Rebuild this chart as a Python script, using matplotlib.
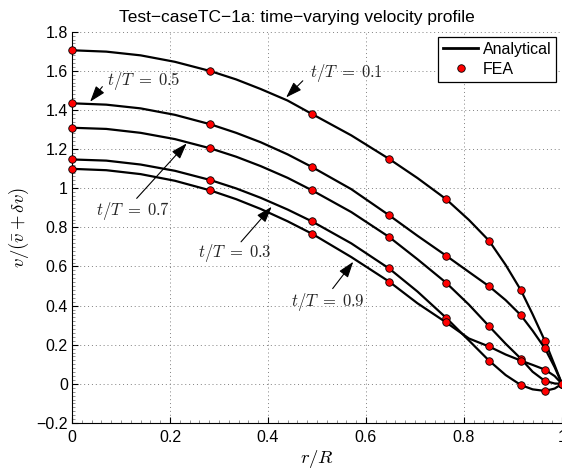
import matplotlib.pyplot as plt
from matplotlib.ticker import MultipleLocator

plt.rcParams['font.family'] = ['Liberation Sans', 'DejaVu Sans']
plt.rcParams['mathtext.fontset'] = 'cm'

# FEA nodes (r/R) and values
r_fea = [0.0, 0.282, 0.490, 0.647, 0.763, 0.851, 0.916, 0.965, 1.0]
fea_01 = [1.705, 1.599, 1.379, 1.150, 0.945, 0.732, 0.479, 0.220, 0.0]
fea_05 = [1.434, 1.327, 1.108, 0.862, 0.656, 0.499, 0.351, 0.182, 0.0]
fea_07 = [1.309, 1.204, 0.989, 0.751, 0.518, 0.295, 0.129, 0.015, 0.0]
fea_03 = [1.147, 1.042, 0.830, 0.590, 0.339, 0.119, -0.006, -0.036, 0.0]
fea_09 = [1.099, 0.989, 0.767, 0.523, 0.315, 0.191, 0.119, 0.073, 0.0]

# analytical curves read at a denser set of radii
r_ana = [0.0, 0.07, 0.14, 0.21, 0.282, 0.335, 0.385, 0.44, 0.490, 0.57, 0.647,
         0.705, 0.763, 0.81, 0.851, 0.885, 0.916, 0.94, 0.965, 0.985, 1.0]
ana_01 = [1.705, 1.698, 1.679, 1.646, 1.599, 1.556, 1.507, 1.448, 1.379, 1.270,
          1.150, 1.052, 0.945, 0.838, 0.732, 0.608, 0.479, 0.356, 0.220, 0.095, 0.0]
ana_05 = [1.434, 1.427, 1.408, 1.375, 1.327, 1.283, 1.235, 1.173, 1.108, 0.995,
          0.862, 0.757, 0.656, 0.572, 0.499, 0.428, 0.351, 0.272, 0.182, 0.085, 0.0]
ana_07 = [1.309, 1.303, 1.283, 1.251, 1.204, 1.161, 1.113, 1.053, 0.989, 0.878,
          0.751, 0.637, 0.518, 0.405, 0.295, 0.205, 0.129, 0.062, 0.015, 0.002, 0.0]
ana_03 = [1.147, 1.141, 1.121, 1.089, 1.042, 0.999, 0.951, 0.891, 0.830, 0.718,
          0.590, 0.472, 0.339, 0.222, 0.119, 0.045, -0.006, -0.028, -0.036, -0.024, 0.0]
ana_09 = [1.099, 1.092, 1.072, 1.038, 0.989, 0.944, 0.894, 0.831, 0.767, 0.648,
          0.523, 0.412, 0.315, 0.232, 0.191, 0.150, 0.119, 0.097, 0.073, 0.040, 0.0]

# labels: text, text pos, arrow tail, arrow head
labels = [r'$t/T\;=\;0.1$', r'$t/T\;=\;0.5$', r'$t/T\;=\;0.7$',
          r'$t/T\;=\;0.3$', r'$t/T\;=\;0.9$']
text_pos = [(0.486, 1.589), (0.071, 1.548), (0.050, 0.883), (0.258, 0.670), (0.447, 0.416)]
arrow_tail = [(0.471, 1.549), (0.062, 1.519), (0.132, 0.948), (0.345, 0.726), (0.532, 0.487)]
arrow_head = [(0.437, 1.464), (0.037, 1.442), (0.234, 1.229), (0.4075, 0.905), (0.574, 0.624)]

fig = plt.figure(figsize=(5.62, 4.70), dpi=100)
ax = fig.add_axes([0.1281, 0.1, 0.8719, 0.8326])

ana = [ana_01, ana_05, ana_07, ana_03, ana_09]
fea = [fea_01, fea_05, fea_07, fea_03, fea_09]
for i in range(len(ana)):
    ax.plot(r_ana, ana[i], color='k', lw=1.6, solid_joinstyle='round',
            label='Analytical' if i == 0 else None, zorder=3)
for i in range(len(fea)):
    ax.plot(r_fea, fea[i], ls='none', marker='o', ms=5.4, mfc='red',
            mec='k', mew=0.6, clip_on=False, zorder=4,
            label='FEA' if i == 0 else None)

for txt, tp, ta, th in zip(labels, text_pos, arrow_tail, arrow_head):
    ax.text(tp[0], tp[1], txt, fontsize=12, ha='left', va='center', color='0.15')
    ax.annotate('', xy=th, xytext=ta,
                arrowprops=dict(arrowstyle='-|>,head_length=0.65,head_width=0.22',
                                color='k', lw=0.8, mutation_scale=15,
                                shrinkA=0, shrinkB=0))

ax.set_xlim(0, 1)
ax.set_ylim(-0.2, 1.8)
ax.xaxis.set_minor_locator(MultipleLocator(0.02))
ax.yaxis.set_minor_locator(MultipleLocator(0.02))
ax.set_xticks([0, 0.2, 0.4, 0.6, 0.8, 1.0])
ax.set_xticklabels(['0', '0.2', '0.4', '0.6', '0.8', '1'])
ax.set_yticks([-0.2, 0, 0.2, 0.4, 0.6, 0.8, 1.0, 1.2, 1.4, 1.6, 1.8])
ax.set_yticklabels(['\u22120.2', '0', '0.2', '0.4', '0.6', '0.8', '1', '1.2', '1.4', '1.6', '1.8'])
ax.tick_params(which='major', direction='in', length=4, width=0.8, labelsize=11.5)
ax.tick_params(which='minor', direction='in', length=2, width=0.5, color='0.4')
ax.tick_params(axis='x', which='major', pad=5)
ax.tick_params(axis='y', which='major', pad=3)
ax.spines['top'].set_visible(False)
ax.spines['right'].set_visible(False)
ax.grid(True, which='major', ls=(0, (1, 3)), color='0.5', lw=0.7)

ax.set_xlabel('$r/R$', fontsize=13.5, labelpad=2)
ax.set_ylabel(r'$v/(\bar{v}+\delta v)$', fontsize=13.5, labelpad=4)
ax.set_title('Test\u2212caseTC\u22121a: time\u2212varying velocity profile',
             fontsize=12.5, x=0.459, pad=7)

leg = ax.legend(loc='upper right', fontsize=11.5, fancybox=False, framealpha=1,
                edgecolor='k', handlelength=2.2, handletextpad=0.3,
                borderpad=0.3, labelspacing=0.3, borderaxespad=0.35)
leg.get_frame().set_linewidth(0.9)
for h in leg.legend_handles:
    h.set_linewidth(2) if h.get_linestyle() != 'None' else None

fig.savefig('out.png', dpi=100)
